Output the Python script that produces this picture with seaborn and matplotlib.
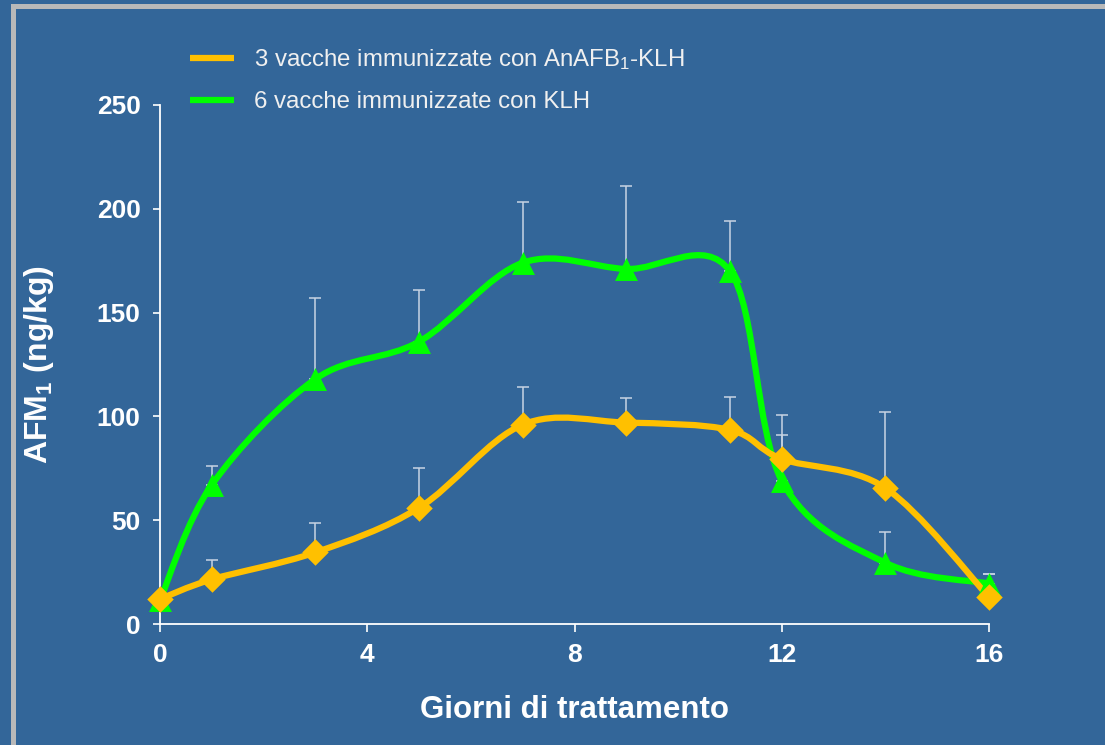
import numpy as np
import matplotlib
matplotlib.use("Agg")
import matplotlib.pyplot as plt
from matplotlib.path import Path
from matplotlib.patches import PathPatch, Rectangle
from matplotlib.lines import Line2D
from matplotlib import font_manager
import seaborn as sns

# Days of treatment and AFM1 concentrations (ng/kg) with upper standard deviations
days = [0, 1, 3, 5, 7, 9, 11, 12, 14, 16]
anafb_mean = [12, 21.5, 34.5, 56, 96, 97, 93.5, 79.5, 65.5, 13]
anafb_sd = [0, 9.5, 14, 19, 18, 12, 16, 21, 36.5, 11]
klh_mean = [11.5, 67, 118, 136, 174, 171, 170, 69, 29.5, 19.5]
klh_sd = [0, 9, 39, 25, 29.5, 40, 24, 22, 15, 4.5]

x_ticks = [0, 4, 8, 12, 16]
y_ticks = [0, 50, 100, 150, 200, 250]

label_anafb = "3 vacche immunizzate con AnAFB$_{\\mathrm{1}}$-KLH"
label_klh = "6 vacche immunizzate con KLH"
x_label = "Giorni di trattamento"
y_label = "AFM$_{\\mathbf{1}}$ (ng/kg)"

BG = "#336699"
GOLD = "#FFC000"
GREEN = "#00FF00"
ERR = "#C8D4E4"
FRAME = "#B9B9B9"

sns.set_theme(style="ticks", rc={
    "figure.facecolor": BG,
    "axes.facecolor": BG,
    "axes.edgecolor": "white",
    "xtick.color": "white",
    "ytick.color": "white",
    "text.color": "white",
    "axes.labelcolor": "white",
})
plt.rcParams["font.family"] = ["Liberation Sans", "DejaVu Sans"]
plt.rcParams["mathtext.fontset"] = "custom"
plt.rcParams["mathtext.rm"] = "Liberation Sans"
plt.rcParams["mathtext.bf"] = "Liberation Sans:bold"
plt.rcParams["mathtext.it"] = "Liberation Sans:italic"

installed = {f.name for f in font_manager.fontManager.ttflist}
narrow = "Liberation Sans Narrow" if "Liberation Sans Narrow" in installed else "Liberation Sans"


def smooth_path(x, y):
    """Cubic Bezier path through the points (Catmull-Rom style smoothing)."""
    pts = np.column_stack([x, y]).astype(float)
    n = len(pts)
    verts = [pts[0]]
    codes = [Path.MOVETO]
    for i in range(n - 1):
        p0 = pts[i - 1] if i > 0 else pts[i]
        p1 = pts[i]
        p2 = pts[i + 1]
        p3 = pts[i + 2] if i + 2 < n else pts[i + 1]
        c1 = p1 + (p2 - p0) / 6.0
        c2 = p2 - (p3 - p1) / 6.0
        verts += [c1, c2, p2]
        codes += [Path.CURVE4] * 3
    return Path(verts, codes)


W, H = 1105, 745
fig = plt.figure(figsize=(W / 100, H / 100), dpi=100)
ax = fig.add_axes([160 / W, 1 - 624 / H, (989 - 160) / W, (624 - 105) / H])

# Slide-style frame
fig.patches.append(Rectangle((12.5 / W, -0.05), 1.2, 1.05 - 6.5 / H,
                             transform=fig.transFigure, fill=False,
                             edgecolor=FRAME, linewidth=3.6, zorder=0))

# One-sided (upper) error bars
for mean, sd in ((anafb_mean, anafb_sd), (klh_mean, klh_sd)):
    ax.errorbar(days, mean, yerr=[np.zeros(len(sd)), sd], fmt="none",
                ecolor=ERR, elinewidth=1.1, capsize=4.3, capthick=1.1,
                zorder=2, clip_on=False)

# Smoothed lines
for mean, col in ((klh_mean, GREEN), (anafb_mean, GOLD)):
    ax.add_patch(PathPatch(smooth_path(days, mean), facecolor="none",
                           edgecolor=col, linewidth=4.5, zorder=3,
                           capstyle="round", joinstyle="round", clip_on=False))

# Markers
sns.scatterplot(x=days, y=klh_mean, marker="^", s=16.5 ** 2, color=GREEN,
                linewidth=0, ax=ax, zorder=4, clip_on=False, legend=False)
sns.scatterplot(x=days, y=anafb_mean, marker="D", s=13.5 ** 2, color=GOLD,
                linewidth=0, ax=ax, zorder=5, clip_on=False, legend=False)

ax.set_xlim(0, 16)
ax.set_ylim(0, 250)
ax.set_xticks(x_ticks)
ax.set_yticks(y_ticks)
for sp in ("top", "right"):
    ax.spines[sp].set_visible(False)
for sp in ("left", "bottom"):
    ax.spines[sp].set_linewidth(1.3)
    ax.spines[sp].set_color("white")

ax.tick_params(axis="y", direction="out", length=5, width=1.2, pad=9,
               labelsize=19)
ax.tick_params(axis="x", direction="out", length=6, width=1.2, pad=8,
               labelsize=19)
for lab in ax.get_yticklabels():
    lab.set_fontweight("bold")
for lab in ax.get_xticklabels():
    lab.set_fontweight("bold")
    lab.set_family([narrow, "DejaVu Sans"])

ax.set_xlabel(x_label, fontsize=22.5, fontweight="bold", labelpad=20,
              family=[narrow, "DejaVu Sans"])
ax.set_ylabel(y_label, fontsize=23, fontweight="bold", labelpad=29)

handles = [Line2D([], [], color=GOLD, lw=4.5, solid_capstyle="butt"),
           Line2D([], [], color=GREEN, lw=4.5, solid_capstyle="butt")]
fig.legend(handles, [label_anafb, label_klh], loc="upper left",
           bbox_to_anchor=(190 / W, 1 - 47 / H), frameon=False,
           fontsize=17.3, handlelength=1.85, handletextpad=0.8,
           labelspacing=0.8, borderpad=0, borderaxespad=0,
           labelcolor="#F0F0F0")

fig.savefig("out.png", dpi=100, facecolor=BG)
